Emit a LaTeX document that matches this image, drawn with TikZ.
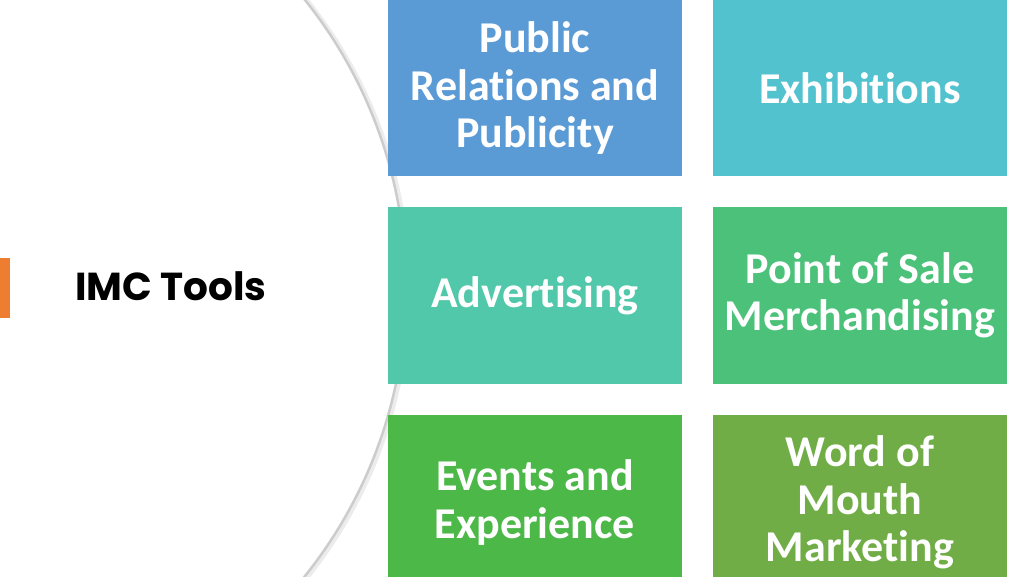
\documentclass[tikz,border=0pt]{standalone}
\usepackage{fontspec}
\setmainfont{Carlito}[Ligatures=NoCommon]
\newfontfamily\imcfont{Poppins}
\usepackage{xcolor}
\usetikzlibrary{positioning}

\definecolor{prblue}{HTML}{5B9BD5}
\definecolor{exteal}{HTML}{52C2CF}
\definecolor{adgreen}{HTML}{50C8A9}
\definecolor{posgreen}{HTML}{4CC17A}
\definecolor{evgreen}{HTML}{4BB848}
\definecolor{womgreen}{HTML}{70AD47}
\definecolor{barorange}{HTML}{ED7D31}

\begin{document}
\begin{tikzpicture}[
    x=1pt, y=1pt,
    node distance=31pt and 31pt,
    tool/.style={
        rectangle,
        inner sep=0pt,
        outer sep=0pt,
        align=center,
        minimum width=294pt,
        minimum height=176pt,
        text=white,
        font=\fontsize{44}{47.5}\selectfont\bfseries
    }
]
\useasboundingbox (0,0) rectangle (1024,576);
\clip (0,0) rectangle (1024,576);

% Arc
\draw[line width=4.5pt, gray!15] (-53.2,287) circle[radius=461.5];
\draw[line width=2.5pt, gray!40] (-55.6,288) circle[radius=461.5];

% Marker and title
\fill[barorange] (0,258) rectangle (10,318);
\node[font=\imcfont\fontsize{39}{44}\selectfont\bfseries] (imc) at (171,290) {IMC Tools};

% Tools
\node[tool, fill=prblue] (pr) at (535,487.5)
{Public\\
Relations and\\
Publicity};

\node[tool, fill=exteal, right=of pr] (exhib)
{Exhibitions};

\node[tool, fill=adgreen, below=of pr] (advert)
{Advertising};

\node[tool, fill=posgreen, right=of advert] (pos)
{Point of Sale\\
Merchandising};

\node[tool, fill=evgreen, below=of advert] (events)
{Events and\\
Experience};

\node[tool, fill=womgreen, right=of events] (wom)
{Word of\\
Mouth\\
Marketing};

\end{tikzpicture}
\end{document}
